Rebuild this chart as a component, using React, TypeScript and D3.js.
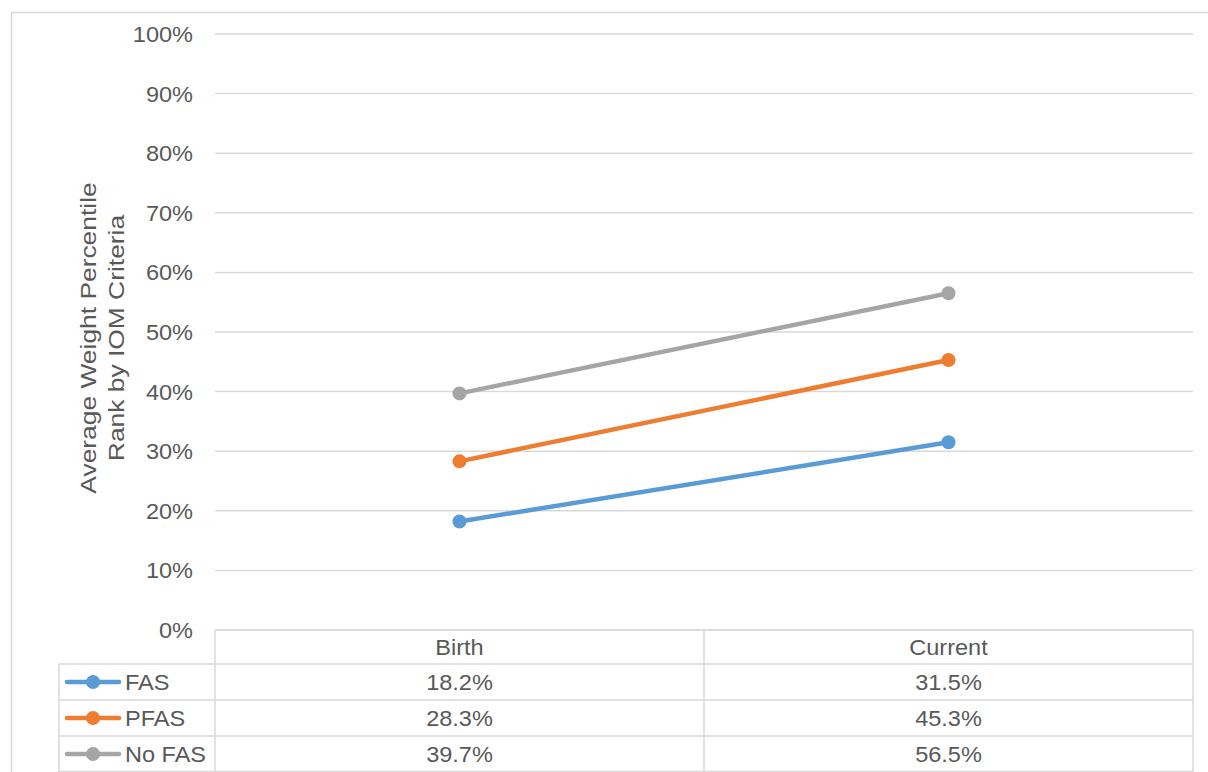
import React from "react";
import * as d3 from "d3";

const categories = ["Birth", "Current"];
const seriesNames = ["FAS", "PFAS", "No FAS"];
const fasValues = [18.2, 31.5];
const pfasValues = [28.3, 45.3];
const noFasValues = [39.7, 56.5];
const seriesColors = ["#5B9BD5", "#ED7D31", "#A5A5A5"];
const yTicks = [0, 10, 20, 30, 40, 50, 60, 70, 80, 90, 100];
const titleLines = ["Average Weight Percentile", "Rank by IOM Criteria"];

const W = 1208;
const H = 772;
const plotLeft = 215;
const plotRight = 1193;
const plotTop = 34;
const plotBottom = 630;
const tableLeft = 59;
const rowH = [34, 36, 36, 36];
const grid = "#D9D9D9";
const textColor = "#595959";
const font = "'Liberation Sans', Arial, sans-serif";
const fs = 22;
const sx = 1.07;

function Txt(props: {
  x: number;
  y: number;
  anchor?: string;
  rotate?: number;
  scale?: number;
  children: React.ReactNode;
}) {
  const { x, y, anchor = "start", rotate = 0, scale = sx, children } = props;
  return (
    <text
      transform={`translate(${x},${y}) rotate(${rotate}) scale(${scale},1)`}
      textAnchor={anchor}
      fontSize={fs}
      fill={textColor}
    >
      {children}
    </text>
  );
}

export default function App() {
  const series = [fasValues, pfasValues, noFasValues];
  const x = d3.scaleBand<string>().domain(categories).range([plotLeft, plotRight]);
  const y = d3.scaleLinear().domain([0, 100]).range([plotBottom, plotTop]);
  const cx = (i: number) => (x(categories[i]) as number) + x.bandwidth() / 2;
  const line = d3
    .line<number>()
    .x((_, i) => cx(i))
    .y((v) => y(v));

  const rowTops: number[] = [];
  let acc = plotBottom;
  rowH.forEach((h) => {
    rowTops.push(acc);
    acc += h;
  });
  const tableBottom = acc;
  const fmt = (v: number) => v.toFixed(1) + "%";

  return (
    <svg
      width={W}
      height={H}
      style={{ position: "absolute", left: 0, top: 0, background: "#fff" }}
      fontFamily={font}
    >
      <rect x={0} y={0} width={W} height={H} fill="#fff" />
      {/* outer chart border */}
      <line x1={11} x2={W} y1={12.5} y2={12.5} stroke={grid} strokeWidth={1.5} />
      <line x1={11.5} x2={11.5} y1={12} y2={H} stroke={grid} strokeWidth={1.5} />

      {/* gridlines and tick labels */}
      {yTicks.map((t) => (
        <g key={t}>
          <line x1={plotLeft} x2={plotRight} y1={y(t)} y2={y(t)} stroke={grid} strokeWidth={1.5} />
          <Txt x={193} y={y(t) + 8} anchor="end">
            {t}%
          </Txt>
        </g>
      ))}

      {/* axis title */}
      {titleLines.map((l, i) => (
        <Txt key={l} x={96 + i * 28} y={338} anchor="middle" rotate={-90} scale={1.2}>
          {l}
        </Txt>
      ))}

      {/* data table grid */}
      {rowTops.map((ry, i) => (
        <line
          key={"h" + i}
          x1={i === 0 ? plotLeft : tableLeft}
          x2={plotRight}
          y1={ry}
          y2={ry}
          stroke={grid}
          strokeWidth={1.5}
        />
      ))}
      <line x1={tableLeft} x2={plotRight} y1={tableBottom - 0.5} y2={tableBottom - 0.5} stroke={grid} strokeWidth={1.5} />
      <line x1={tableLeft} x2={tableLeft} y1={rowTops[1]} y2={tableBottom} stroke={grid} strokeWidth={1.5} />
      {[plotLeft, ...categories.map((c) => (x(c) as number) + x.bandwidth())].map((vx, i) => (
        <line key={"v" + i} x1={vx} x2={vx} y1={plotBottom} y2={tableBottom} stroke={grid} strokeWidth={1.5} />
      ))}

      {/* header row */}
      {categories.map((c, ci) => (
        <Txt key={c} x={cx(ci)} y={rowTops[0] + rowH[0] / 2 + 8} anchor="middle">
          {c}
        </Txt>
      ))}

      {/* series rows */}
      {series.map((vals, si) => {
        const ry = rowTops[si + 1] + rowH[si + 1] / 2;
        return (
          <g key={seriesNames[si]}>
            <line x1={67} x2={119} y1={ry} y2={ry} stroke={seriesColors[si]} strokeWidth={4.5} strokeLinecap="round" />
            <circle cx={93} cy={ry} r={7} fill={seriesColors[si]} />
            <Txt x={125} y={ry + 8}>
              {seriesNames[si]}
            </Txt>
            {vals.map((v, ci) => (
              <Txt key={ci} x={cx(ci)} y={ry + 8} anchor="middle">
                {fmt(v)}
              </Txt>
            ))}
          </g>
        );
      })}

      {/* lines and markers */}
      {series.map((vals, si) => (
        <g key={"s" + si}>
          <path d={line(vals) as string} fill="none" stroke={seriesColors[si]} strokeWidth={4.5} strokeLinecap="round" />
          {vals.map((v, ci) => (
            <circle key={ci} cx={cx(ci)} cy={y(v)} r={7} fill={seriesColors[si]} />
          ))}
        </g>
      ))}
    </svg>
  );
}
